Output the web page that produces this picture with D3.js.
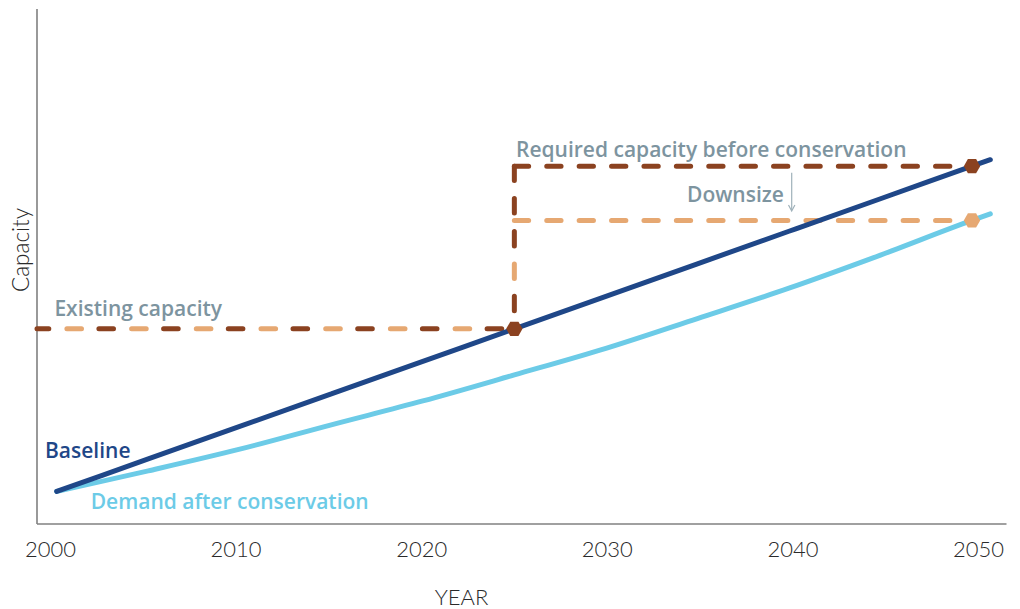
<!DOCTYPE html>
<html>
<head>
<meta charset="utf-8">
<script src="https://cdn.jsdelivr.net/npm/d3@7"></script>
<style>
  html, body { margin: 0; padding: 0; background: #ffffff; }
  svg { display: block; }
</style>
</head>
<body>
<svg id="chart" width="1020" height="609"></svg>
<script>
// ---- data ----
const years = [2000, 2005, 2010, 2015, 2020, 2025, 2030, 2035, 2040, 2045, 2050, 2051];
const baseline = [10, 16, 22, 28, 34, 40, 46, 52, 58, 64, 70, 71.2];
const demand = [10, 13.8, 17.8, 22.3, 26.7, 31.5, 36.4, 41.9, 47.5, 53.6, 60, 61.2];
const tickYears = [2000, 2010, 2020, 2030, 2040, 2050];
const buildYear = 2025;
const planYear = 2050;
const existingCapacity = 40;
const requiredCapacity = 70;
const conservedCapacity = 60;

// ---- layout ----
const M = { left: 37, right: 1006.5, top: 9, bottom: 524 };

const svg = d3.select("#chart");

const x = d3.scaleLinear().domain([2000, 2050]).range([56.7, 972]);
const xLabel = d3.scaleLinear().domain([2000, 2050]).range([50, 978]);
const y = d3.scaleLinear().domain([4, 99]).range([M.bottom, M.top]);

const C = {
  base: "#1f4788",
  demand: "#6ccbe7",
  brown: "#8b4220",
  orange: "#e6a872",
  label: "#7d949f",
  axis: "#808080",
  text: "#2a2a2a",
  arrow: "#9fb1ba"
};
const FONT = "Lato, 'Open Sans', sans-serif";
const LFONT = "'Open Sans', Lato, sans-serif";

// axes frame
svg.append("line").attr("x1", M.left).attr("x2", M.left).attr("y1", M.top).attr("y2", M.bottom)
  .attr("stroke", C.axis).attr("stroke-width", 1.6);
svg.append("line").attr("x1", M.left).attr("x2", M.right).attr("y1", M.bottom).attr("y2", M.bottom)
  .attr("stroke", C.axis).attr("stroke-width", 1.6);

// x axis tick labels
const xAxis = d3.axisBottom(xLabel).tickValues(tickYears).tickFormat(d3.format("d")).tickSize(0).tickPadding(0);
const gx = svg.append("g").attr("transform", `translate(0,${M.bottom})`).call(xAxis);
gx.select(".domain").remove();
gx.selectAll("text")
  .attr("dy", null).attr("y", 32.5)
  .attr("font-family", FONT).attr("font-size", 22).attr("font-weight", 300)
  .attr("fill", C.text);

// axis titles
svg.append("text").attr("x", 461.5).attr("y", 605).attr("text-anchor", "middle")
  .attr("font-family", FONT).attr("font-size", 22).attr("font-weight", 300).attr("fill", C.text)
  .text("YEAR");
svg.append("text").attr("transform", "translate(29,250) rotate(-90)").attr("text-anchor", "middle")
  .attr("font-family", FONT).attr("font-size", 22.5).attr("font-weight", 300).attr("fill", C.text)
  .text("Capacity");

// ---- dashed capacity lines ----
function dashed(x1, y1, x2, y2, color, arr, off) {
  svg.append("line").attr("x1", x1).attr("y1", y1).attr("x2", x2).attr("y2", y2)
    .attr("stroke", color).attr("stroke-width", 5).attr("stroke-linecap", "round")
    .attr("stroke-dasharray", arr).attr("stroke-dashoffset", off).attr("fill", "none");
}
const longDash = "14.6,50.1";
const shortDash = "14.3,18.1";
const xb = x(buildYear), xp = x(planYear);
// existing capacity (alternating brown / orange)
dashed(M.left, y(existingCapacity), xb, y(existingCapacity), C.brown, longDash, 2.8);
dashed(M.left, y(existingCapacity), xb, y(existingCapacity), C.orange, longDash, -29.9);
// vertical lower part (alternating)
dashed(xb, y(conservedCapacity), xb, y(existingCapacity), C.brown, longDash, -11.1);
dashed(xb, y(conservedCapacity), xb, y(existingCapacity), C.orange, longDash, -43.5);
// vertical upper part (brown)
dashed(xb, y(requiredCapacity), xb, y(conservedCapacity), C.brown, shortDash, 0);
// horizontal required / conserved
dashed(xb, y(requiredCapacity), xp, y(requiredCapacity), C.brown, shortDash, 0);
dashed(xb, y(conservedCapacity), xp, y(conservedCapacity), C.orange, shortDash, 0);

// ---- demand lines ----
const line = d3.line().x(d => x(d[0])).y(d => y(d[1])).curve(d3.curveMonotoneX);
svg.append("path").datum(years.map((yr, i) => [yr, demand[i]]))
  .attr("d", line).attr("fill", "none").attr("stroke", C.demand)
  .attr("stroke-width", 5).attr("stroke-linecap", "round");
svg.append("path").datum(years.map((yr, i) => [yr, baseline[i]]))
  .attr("d", line).attr("fill", "none").attr("stroke", C.base)
  .attr("stroke-width", 5).attr("stroke-linecap", "round");

// ---- hexagon markers ----
function hexagon(cx, cy, r, color) {
  const pts = d3.range(6).map(k => {
    const a = k * Math.PI / 3;
    return [cx + r * Math.cos(a), cy + r * Math.sin(a)];
  });
  svg.append("path").attr("d", "M" + pts.join("L") + "Z").attr("fill", color);
}
hexagon(xb, y(existingCapacity), 8.2, C.brown);
hexagon(xp, y(requiredCapacity), 8.2, C.brown);
hexagon(xp, y(conservedCapacity), 8.2, C.orange);

// ---- labels ----
function label(tx, ty, txt, color) {
  svg.append("text").attr("x", tx).attr("y", ty)
    .attr("font-family", LFONT).attr("font-size", 21).attr("font-weight", 600)
    .attr("fill", color).text(txt);
}
label(54.4, 316, "Existing capacity", C.label);
label(516, 157, "Required capacity before conservation", C.label);
label(687, 202, "Downsize", C.label);
label(45, 458.3, "Baseline", C.base);
label(90.7, 509, "Demand after conservation", C.demand);

// downsize arrow
const ax = 791.7;
svg.append("line").attr("x1", ax).attr("x2", ax).attr("y1", 172.7).attr("y2", 210)
  .attr("stroke", C.arrow).attr("stroke-width", 1.2);
svg.append("path")
  .attr("d", `M${ax - 3.2},${205} L${ax},${211} L${ax + 3.2},${205}`)
  .attr("fill", "none").attr("stroke", C.arrow).attr("stroke-width", 1.2);
</script>
</body>
</html>
